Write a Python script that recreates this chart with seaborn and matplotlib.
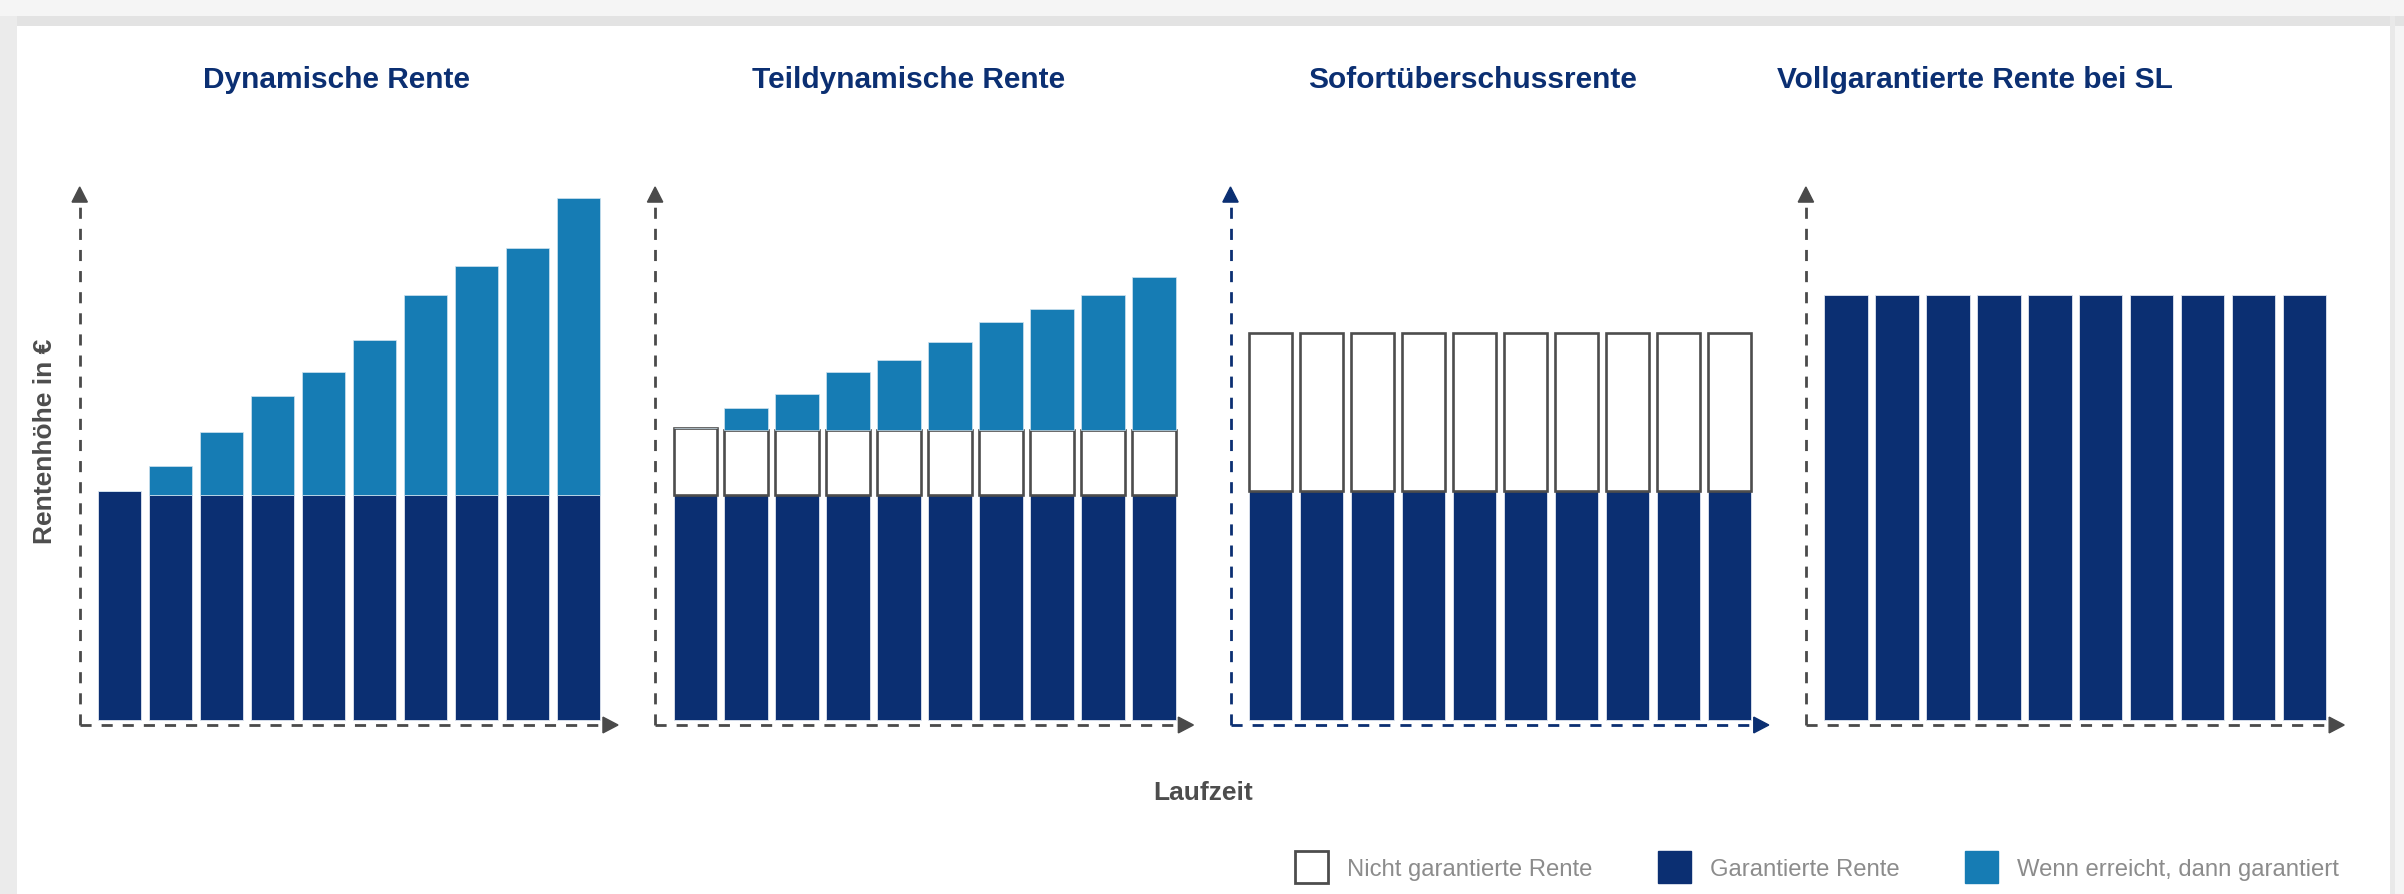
import matplotlib.pyplot as plt
import seaborn as sns
from matplotlib.patches import Patch, Rectangle

# Werte (Rentenhöhe, garantierte Rente = 100)
titel = ["Dynamische Rente", "Teildynamische Rente",
         "Sofortüberschussrente", "Vollgarantierte Rente bei SL"]
jahre = [1, 2, 3, 4, 5, 6, 7, 8, 9, 10]

dyn_garantiert = [102, 100, 100, 100, 100, 100, 100, 100, 100, 100]
dyn_wenn = [0, 13, 28, 44, 55, 69, 89, 102, 110, 132]

teil_garantiert = [100, 100, 100, 100, 100, 100, 100, 100, 100, 100]
teil_nicht = [30, 29, 29, 29, 29, 29, 29, 29, 29, 29]
teil_wenn = [0, 10, 16, 26, 31, 39, 48, 54, 60, 68]

sofort_garantiert = [102, 102, 102, 102, 102, 102, 102, 102, 102, 102]
sofort_nicht = [70, 70, 70, 70, 70, 70, 70, 70, 70, 70]

voll_garantiert = [189, 189, 189, 189, 189, 189, 189, 189, 189, 189]

legende = ["Nicht garantierte Rente", "Garantierte Rente", "Wenn erreicht, dann garantiert"]

NAVY = "#0b2f72"
HELLBLAU = "#167cb4"
GRAU = "#4a4a4a"

sns.set_style("white")
plt.rcParams["font.family"] = ["Liberation Sans", "DejaVu Sans"]

W, H = 2404, 895
fig = plt.figure(figsize=(W / 100, H / 100), dpi=100, facecolor="#f5f5f5")

# Rahmen / Hintergrund
fig.add_artist(Rectangle((0, 0), 17 / W, 878 / H, transform=fig.transFigure,
                         facecolor="#ebebeb", edgecolor="none", zorder=0))
fig.add_artist(Rectangle((17 / W, 868 / H), 1, 10 / H, transform=fig.transFigure,
                         facecolor="#e3e3e3", edgecolor="none", zorder=0))
fig.add_artist(Rectangle((2390 / W, 0), 5 / W, 878 / H, transform=fig.transFigure,
                         facecolor="#e9e9e9", edgecolor="none", zorder=0))
fig.add_artist(Rectangle((17 / W, 0), 2373 / W, 868 / H, transform=fig.transFigure,
                         facecolor="white", edgecolor="none", zorder=0))

panels = [
    dict(garantiert=dyn_garantiert, nicht=None, wenn=dyn_wenn),
    dict(garantiert=teil_garantiert, nicht=teil_nicht, wenn=teil_wenn),
    dict(garantiert=sofort_garantiert, nicht=sofort_nicht, wenn=None),
    dict(garantiert=voll_garantiert, nicht=None, wenn=None),
]
achsen_farbe = [GRAU, GRAU, NAVY, GRAU]
titel_x = [337, 909, 1473, 1975]

x0, x1 = -0.786, 9.775
y0, y1 = -2, 237

for i, p in enumerate(panels):
    ax = fig.add_axes([(79.7 + 575.4 * i) / W, 169 / H, 538.3 / W, 538 / H])
    ax.patch.set_alpha(0)

    sns.barplot(x=jahre, y=p["garantiert"], color=NAVY, saturation=1, width=0.85,
                errorbar=None, edgecolor="#dfe5ef", linewidth=0.6, ax=ax)
    oben = list(p["garantiert"])
    if p["nicht"] is not None:
        sns.barplot(x=jahre, y=p["nicht"], bottom=oben, color="white", saturation=1,
                    width=0.85, errorbar=None, edgecolor="#4d4d4d", linewidth=1.9, ax=ax)
        oben = [a + b for a, b in zip(oben, p["nicht"])]
    if p["wenn"] is not None:
        sns.barplot(x=jahre, y=p["wenn"], bottom=oben, color=HELLBLAU, saturation=1,
                    width=0.85, errorbar=None, edgecolor="#cfe3ef", linewidth=0.5, ax=ax)

    c = achsen_farbe[i]
    # gestrichelte Achsen mit Pfeilspitzen
    ax.plot([x0, 9.48], [y0, y0], color=c, lw=2, dashes=(4, 3.6), clip_on=False)
    ax.plot([x0, x0], [y0, 230.3], color=c, lw=2, dashes=(4, 3.6), clip_on=False)
    ax.fill([x0 - 0.15, x0 + 0.15, x0], [230.3, 230.3, y1], color=c, clip_on=False)
    ax.fill([9.48, 9.48, x1], [y0 - 3.5, y0 + 3.5, y0], color=c, clip_on=False)

    ax.set_xlim(x0, x1)
    ax.set_ylim(y0, y1)
    ax.axis("off")

    fig.text(titel_x[i] / W, (H - 88) / H, titel[i], ha="center", va="baseline",
             fontsize=21.5, fontweight="bold", color=NAVY)

fig.text(45 / W, (H - 441) / H, "Rentenhöhe in €", rotation=90, ha="center", va="center",
         fontsize=19, fontweight="bold", color="#4d4d4d")
fig.text(1203.5 / W, (H - 800) / H, "Laufzeit", ha="center", va="baseline",
         fontsize=19, fontweight="bold", color="#4d4d4d")

handles = [
    Patch(facecolor="white", edgecolor="#4d4d4d", linewidth=2),
    Patch(facecolor=NAVY, edgecolor=NAVY),
    Patch(facecolor=HELLBLAU, edgecolor=HELLBLAU),
]
fig.legend(handles, legende, loc="center left", bbox_to_anchor=(1295 / W, 27 / H),
           ncol=3, frameon=False, fontsize=17.2, labelcolor="#8c8c8c",
           handlelength=1.37, handleheight=1.68, handletextpad=0.8,
           columnspacing=2.75, borderpad=0, borderaxespad=0)

fig.savefig("out.png", dpi=100, facecolor=fig.get_facecolor())
